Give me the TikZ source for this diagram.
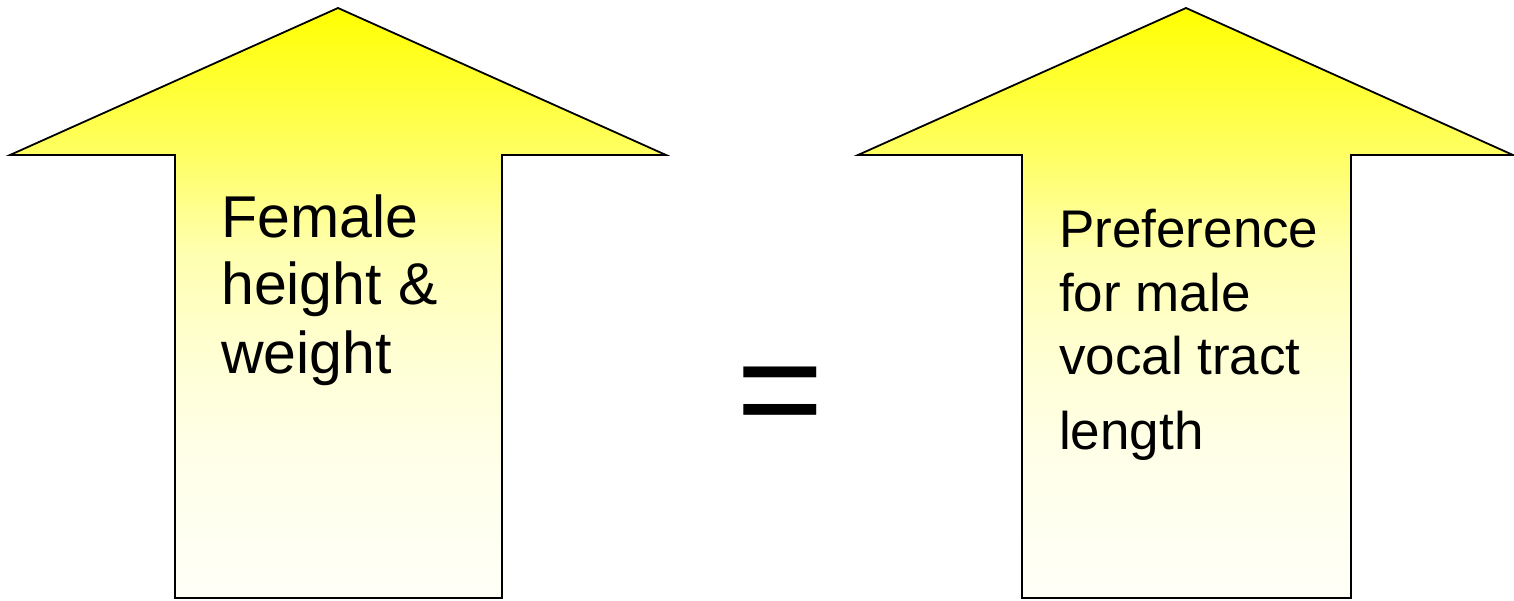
\documentclass[tikz,border=0pt]{standalone}
\usepackage{fontspec}
\setmainfont{Liberation Sans}
\definecolor{arrtop}{RGB}{255,255,0}
\definecolor{arrc155}{RGB}{255,255,100}
\definecolor{arrc250}{RGB}{255,255,175}
\definecolor{arrc350}{RGB}{255,255,210}
\definecolor{arrc450}{RGB}{255,255,232}
\definecolor{arrbot}{RGB}{255,255,248}
\pgfdeclareverticalshading{arrshade}{100bp}{color(0bp)=(arrbot); color(25bp)=(arrbot); color(37.5bp)=(arrc450); color(46bp)=(arrc350); color(54.5bp)=(arrc250); color(62.5bp)=(arrc155); color(75bp)=(arrtop); color(100bp)=(arrtop)}
\tikzset{
  bigarrow/.style={draw=black, line width=1.8pt, line join=miter, shading=arrshade},
  lefttext/.style={anchor=base west, inner sep=0pt, font=\fontsize{59}{70}\selectfont},
  righttext/.style={anchor=base west, inner sep=0pt, font=\fontsize{53}{63}\selectfont},
  eqsign/.style={anchor=base, inner sep=0pt, font=\fontsize{150}{150}\selectfont}
}
\begin{document}
\begin{tikzpicture}[x=1pt,y=-1pt]
\useasboundingbox (0,0) rectangle (1514,600);
% left arrow
\path[bigarrow] (338,8) -- (666,155) -- (502,155) -- (502,598) -- (175,598) -- (175,155) -- (10,155) -- cycle;
% right arrow
\path[bigarrow] (1186,8) -- (1513,155) -- (1351,155) -- (1351,598) -- (1022,598) -- (1022,155) -- (858,155) -- cycle;
% left text
\node[lefttext] (l1) at (221,237) {Female};
\node[lefttext] (l2) at (221,304) {height \&};
\node[lefttext] (l3) at (221,373) {weight};
% right text
\node[righttext] (r1) at (1059,247) {Preference};
\node[righttext] (r2) at (1059,311) {for male};
\node[righttext] (r3) at (1059,374) {vocal tract};
\node[righttext] (r4) at (1059,449) {length};
% equal sign
\node[eqsign] (eq) at (780,440) {=};
\end{tikzpicture}
\end{document}
